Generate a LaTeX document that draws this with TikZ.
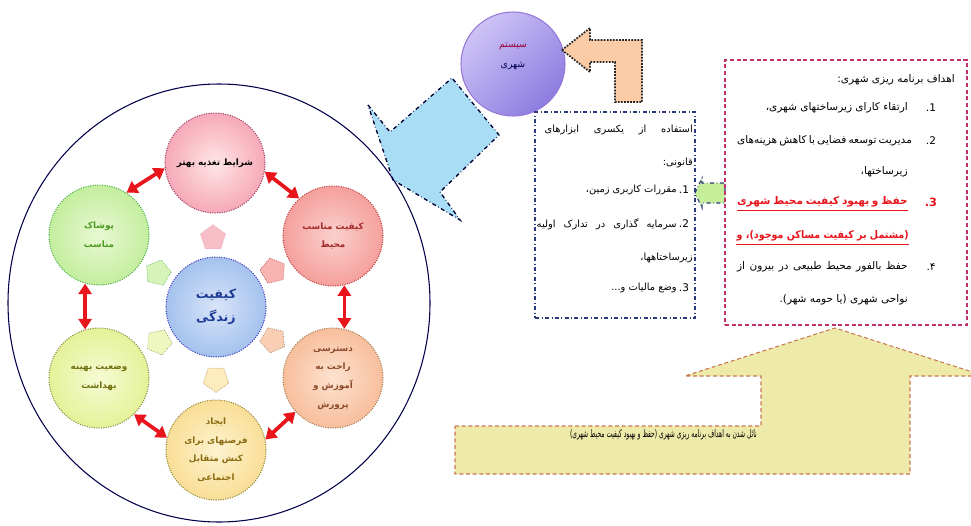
\documentclass[tikz,border=0pt]{standalone}
\usepackage{fontspec}
\usepackage{graphicx}
\usetikzlibrary{shapes.geometric,arrows.meta}
\newfontfamily\arabicfont[Script=Arabic]{DejaVu Sans}
\TeXXeTstate=1
\newcommand\pers[1]{{\arabicfont\beginR #1\endR}}
\definecolor{arrred}{HTML}{E8151C}
\definecolor{boxblue}{HTML}{2A3A7A}
\definecolor{boxred}{HTML}{C0306A}
\definecolor{ylwfill}{HTML}{EEEAA9}
\definecolor{ylwline}{HTML}{C87850}
\definecolor{skyfill}{HTML}{A9DDF6}
\begin{document}
\begin{tikzpicture}[x=0.75pt,y=-0.75pt,
  bub/.style={circle, minimum size=75pt, inner sep=0pt, align=center,
    font=\bfseries\fontsize{6.6}{14}\selectfont, densely dotted, line width=0.8pt},
  redarr/.style={draw=arrred, line width=2.8pt,
    {Triangle[length=8pt,width=10pt]}-{Triangle[length=8pt,width=10pt]}},
  pent/.style={regular polygon, regular polygon sides=5, minimum size=20pt,
    inner sep=0pt, densely dotted, line width=0.5pt},
  txt/.style={inner sep=0pt, anchor=east, font=\arabicfont\fontsize{7.9}{9}\selectfont},
  mtxt/.style={inner sep=0pt, anchor=east, font=\arabicfont\fontsize{7.4}{9}\selectfont},
  num/.style={inner sep=0pt, font=\arabicfont\fontsize{7.9}{9}\selectfont}
]
\useasboundingbox (0,0) rectangle (971,525);
\fill[white] (0,0) rectangle (971,525);

% blue arrow (under the big circle line)
\filldraw[fill=skyfill, draw=black!80!blue, dash dot, line width=1pt]
  (368,105) -- (390,132) -- (452,78) -- (499,135) -- (440,192) -- (460,220) -- (393,180) -- cycle;

% big circle
\draw[black!70!blue, line width=0.8pt] (219,303) ellipse [x radius=211, y radius=219];

% bubbles
\node[bub, draw=purple!50!gray, inner color=pink!40!white, outer color={rgb,255:red,246;green,169;blue,185}] (top) at (215,163) {\pers{شرایط تغذیه بهتر}};
\node[bub, draw=red!50!gray, inner color={rgb,255:red,250;green,208;blue,204}, outer color={rgb,255:red,245;green,160;blue,157}, text={rgb,255:red,164;green,42;blue,42}] (rt) at (333,236) {\pers{کیفیت مناسب}\\\pers{محیط}};
\node[bub, draw=brown!60!gray, inner color={rgb,255:red,252;green,226;blue,208}, outer color={rgb,255:red,248;green,190;blue,156}, text={rgb,255:red,140;green,74;blue,40}] (rb) at (333,378) {\pers{دسترسی}\\\pers{راحت به}\\\pers{آموزش و}\\\pers{پرورش}};
\node[bub, draw=olive!60!gray, inner color={rgb,255:red,253;green,243;blue,208}, outer color={rgb,255:red,249;green,222;blue,150}, text={rgb,255:red,139;green,107;blue,18}] (bot) at (216,450) {\pers{ایجاد}\\\pers{فرصتهای برای}\\\pers{کنش متقابل}\\\pers{اجتماعی}};
\node[bub, draw=olive!50!gray, inner color={rgb,255:red,246;green,251;blue,212}, outer color={rgb,255:red,228;green,242;blue,152}, text={rgb,255:red,111;green,111;blue,16}] (lb) at (99,378) {\pers{وضعیت بهینه}\\\pers{بهداشت}};
\node[bub, draw=green!40!gray, inner color={rgb,255:red,232;green,248;blue,212}, outer color={rgb,255:red,196;green,238;blue,158}, text={rgb,255:red,76;green,154;blue,34}] (lt) at (99,235) {\pers{پوشاک}\\\pers{مناسب}};
\node[bub, draw=blue!50!gray, inner color={rgb,255:red,216;green,228;blue,248}, outer color={rgb,255:red,164;green,194;blue,238}, text={rgb,255:red,30;green,60;blue,150}, font=\bfseries\fontsize{9.5}{17}\selectfont] (ctr) at (216,307) {\pers{کیفیت}\\\pers{زندگی}};

% small pentagon arrows
\node[pent, draw=pink!70!gray, fill={rgb,255:red,248;green,190;blue,200}] (p1) at (213,238) {};
\node[pent, rotate=58, draw=green!40!gray, fill={rgb,255:red,214;green,244;blue,186}] (p2) at (158,273) {};
\node[pent, rotate=-58, draw=red!40!gray, fill={rgb,255:red,248;green,180;blue,176}] (p3) at (273,271) {};
\node[pent, rotate=121, draw=olive!40!gray, fill={rgb,255:red,238;green,248;blue,190}] (p4) at (159,342) {};
\node[pent, rotate=-121, draw=brown!40!gray, fill={rgb,255:red,250;green,206;blue,180}] (p5) at (273,340) {};
\node[pent, rotate=180, draw=orange!40!gray, fill={rgb,255:red,252;green,236;blue,190}] (p6) at (216,379) {};

% red double arrows
\draw[redarr] (top.186) -- (lt.57);
\draw[redarr] (top.350) -- (rt.132);
\draw[redarr] (lt.254) -- (lb.106);
\draw[redarr] (rt.283) -- (rb.77);
\draw[redarr] (lb.314) -- (bot.166);
\draw[redarr] (bot.12) -- (rb.222);

% system circle
\node[circle, minimum size=78pt, inner sep=0pt, draw={rgb,255:red,150;green,120;blue,215}, line width=0.8pt,
  shading=axis, left color={rgb,255:red,205;green,195;blue,246}, right color={rgb,255:red,140;green,124;blue,224}, shading angle=45] (sys) at (513,64) {};
\node[align=center, inner sep=0pt, font=\fontsize{7}{15}\selectfont] (systxt) at (513,56)
  {\textcolor{purple!80!black}{\pers{سیستم}}\\\textcolor{blue!30!black}{\pers{شهری}}};

% orange bent arrow
\filldraw[fill={rgb,255:red,251;green,203;blue,165}, draw=black!85, densely dotted, line width=1.3pt]
  (562,50) -- (590,28) -- (590,40) -- (642,40) -- (642,102) -- (615,102) -- (615,62) -- (590,62) -- (590,72) -- cycle;

% middle box
\node[draw=boxblue, dash dot, line width=0.9pt, minimum width=120pt, minimum height=154.5pt, inner sep=0pt] (midbox) at (615,215) {};
\node[mtxt] (m1) at (693,130) {\hbox to 111pt{\beginR استفاده از یکسری ابزارهای\endR}};
\node[mtxt] (m2) at (693,163) {\beginR قانونی:\endR};
\node[num] (mn1) at (684,190) {1.};
\node[mtxt] (m3) at (677,190) {\beginR مقررات کاربری زمین،\endR};
\node[num] (mn2) at (684,224) {2.};
\node[mtxt] (m4) at (677,224) {\hbox to 105pt{\beginR سرمایه گذاری در تدارک اولیه\endR}};
\node[mtxt] (m5) at (693,258) {\beginR زیرساختاهها،\endR};
\node[num] (mn3) at (684,288) {3.};
\node[mtxt] (m6) at (677,288) {\beginR وضع مالیات و...\endR};

% green small arrow
\filldraw[fill={rgb,255:red,198;green,238;blue,154}, draw=boxblue, dash dot, line width=0.8pt]
  (695,193) -- (702,178) -- (702,183) -- (725,183) -- (725,203) -- (702,203) -- (702,208) -- cycle;

% right box
\node[draw=boxred, densely dashed, line width=0.9pt, minimum width=181.5pt, minimum height=198.75pt, inner sep=0pt] (goalbox) at (846,192.5) {};
\node[txt] (g0) at (955,80) {\beginR اهداف برنامه ریزی شهری:\endR};
\node[num] (gn1) at (931,108) {1.};
\node[txt] (g1) at (908,108) {\beginR ارتقاء کارای زیرساختهای شهری،\endR};
\node[num] (gn2) at (931,141) {2.};
\node[txt] (g2) at (908,141) {\hbox to 128pt{\beginR مدیریت توسعه فضایی با کاهش هزینه‌های\endR}};
\node[txt] (g3) at (908,172) {\beginR زیرساختها،\endR};
\node[num, text=arrred, font=\arabicfont\bfseries\fontsize{8.5}{9}\selectfont] (gn3) at (931,202) {3.};
\node[txt, text=arrred, font=\arabicfont\bfseries\fontsize{7.9}{9}\selectfont] (g4) at (908,202) {\hbox to 128pt{\beginR حفظ و بهبود کیفیت محیط شهری\endR}};
\node[txt, text=arrred, font=\arabicfont\bfseries\fontsize{7.9}{9}\selectfont] (g5) at (909,236) {\resizebox{129pt}{\height}{\beginR (مشتمل بر کیفیت مساکن موجود)، و\endR}};
\draw[arrred, line width=0.6pt] ([yshift=-2pt]g4.south west) -- ([yshift=-2pt]g4.south east);
\draw[arrred, line width=0.6pt] ([yshift=-2pt]g5.south west) -- ([yshift=-2pt]g5.south east);
\node[num] (gn4) at (931,267) {۴.};
\node[txt] (g6) at (908,267) {\hbox to 128pt{\beginR حفظ بالفور محیط طبیعی در بیرون از\endR}};
\node[txt] (g7) at (908,300) {\beginR نواحی شهری (یا حومه شهر).\endR};

% bottom yellow arrow
\filldraw[fill=ylwfill, draw=ylwline, densely dashed, line width=0.8pt]
  (455,426) -- (761,426) -- (761,376) -- (685,376) -- (835,328) -- (985,376) -- (910,376) -- (910,474) -- (455,474) -- cycle;
\node[txt] (b1) at (757,435) {\resizebox{140pt}{\height}{\beginR نائل شدن به اهداف برنامه ریزی شهری (حفظ و بهبود کیفیت محیط شهری)\endR}};
\end{tikzpicture}
\end{document}
